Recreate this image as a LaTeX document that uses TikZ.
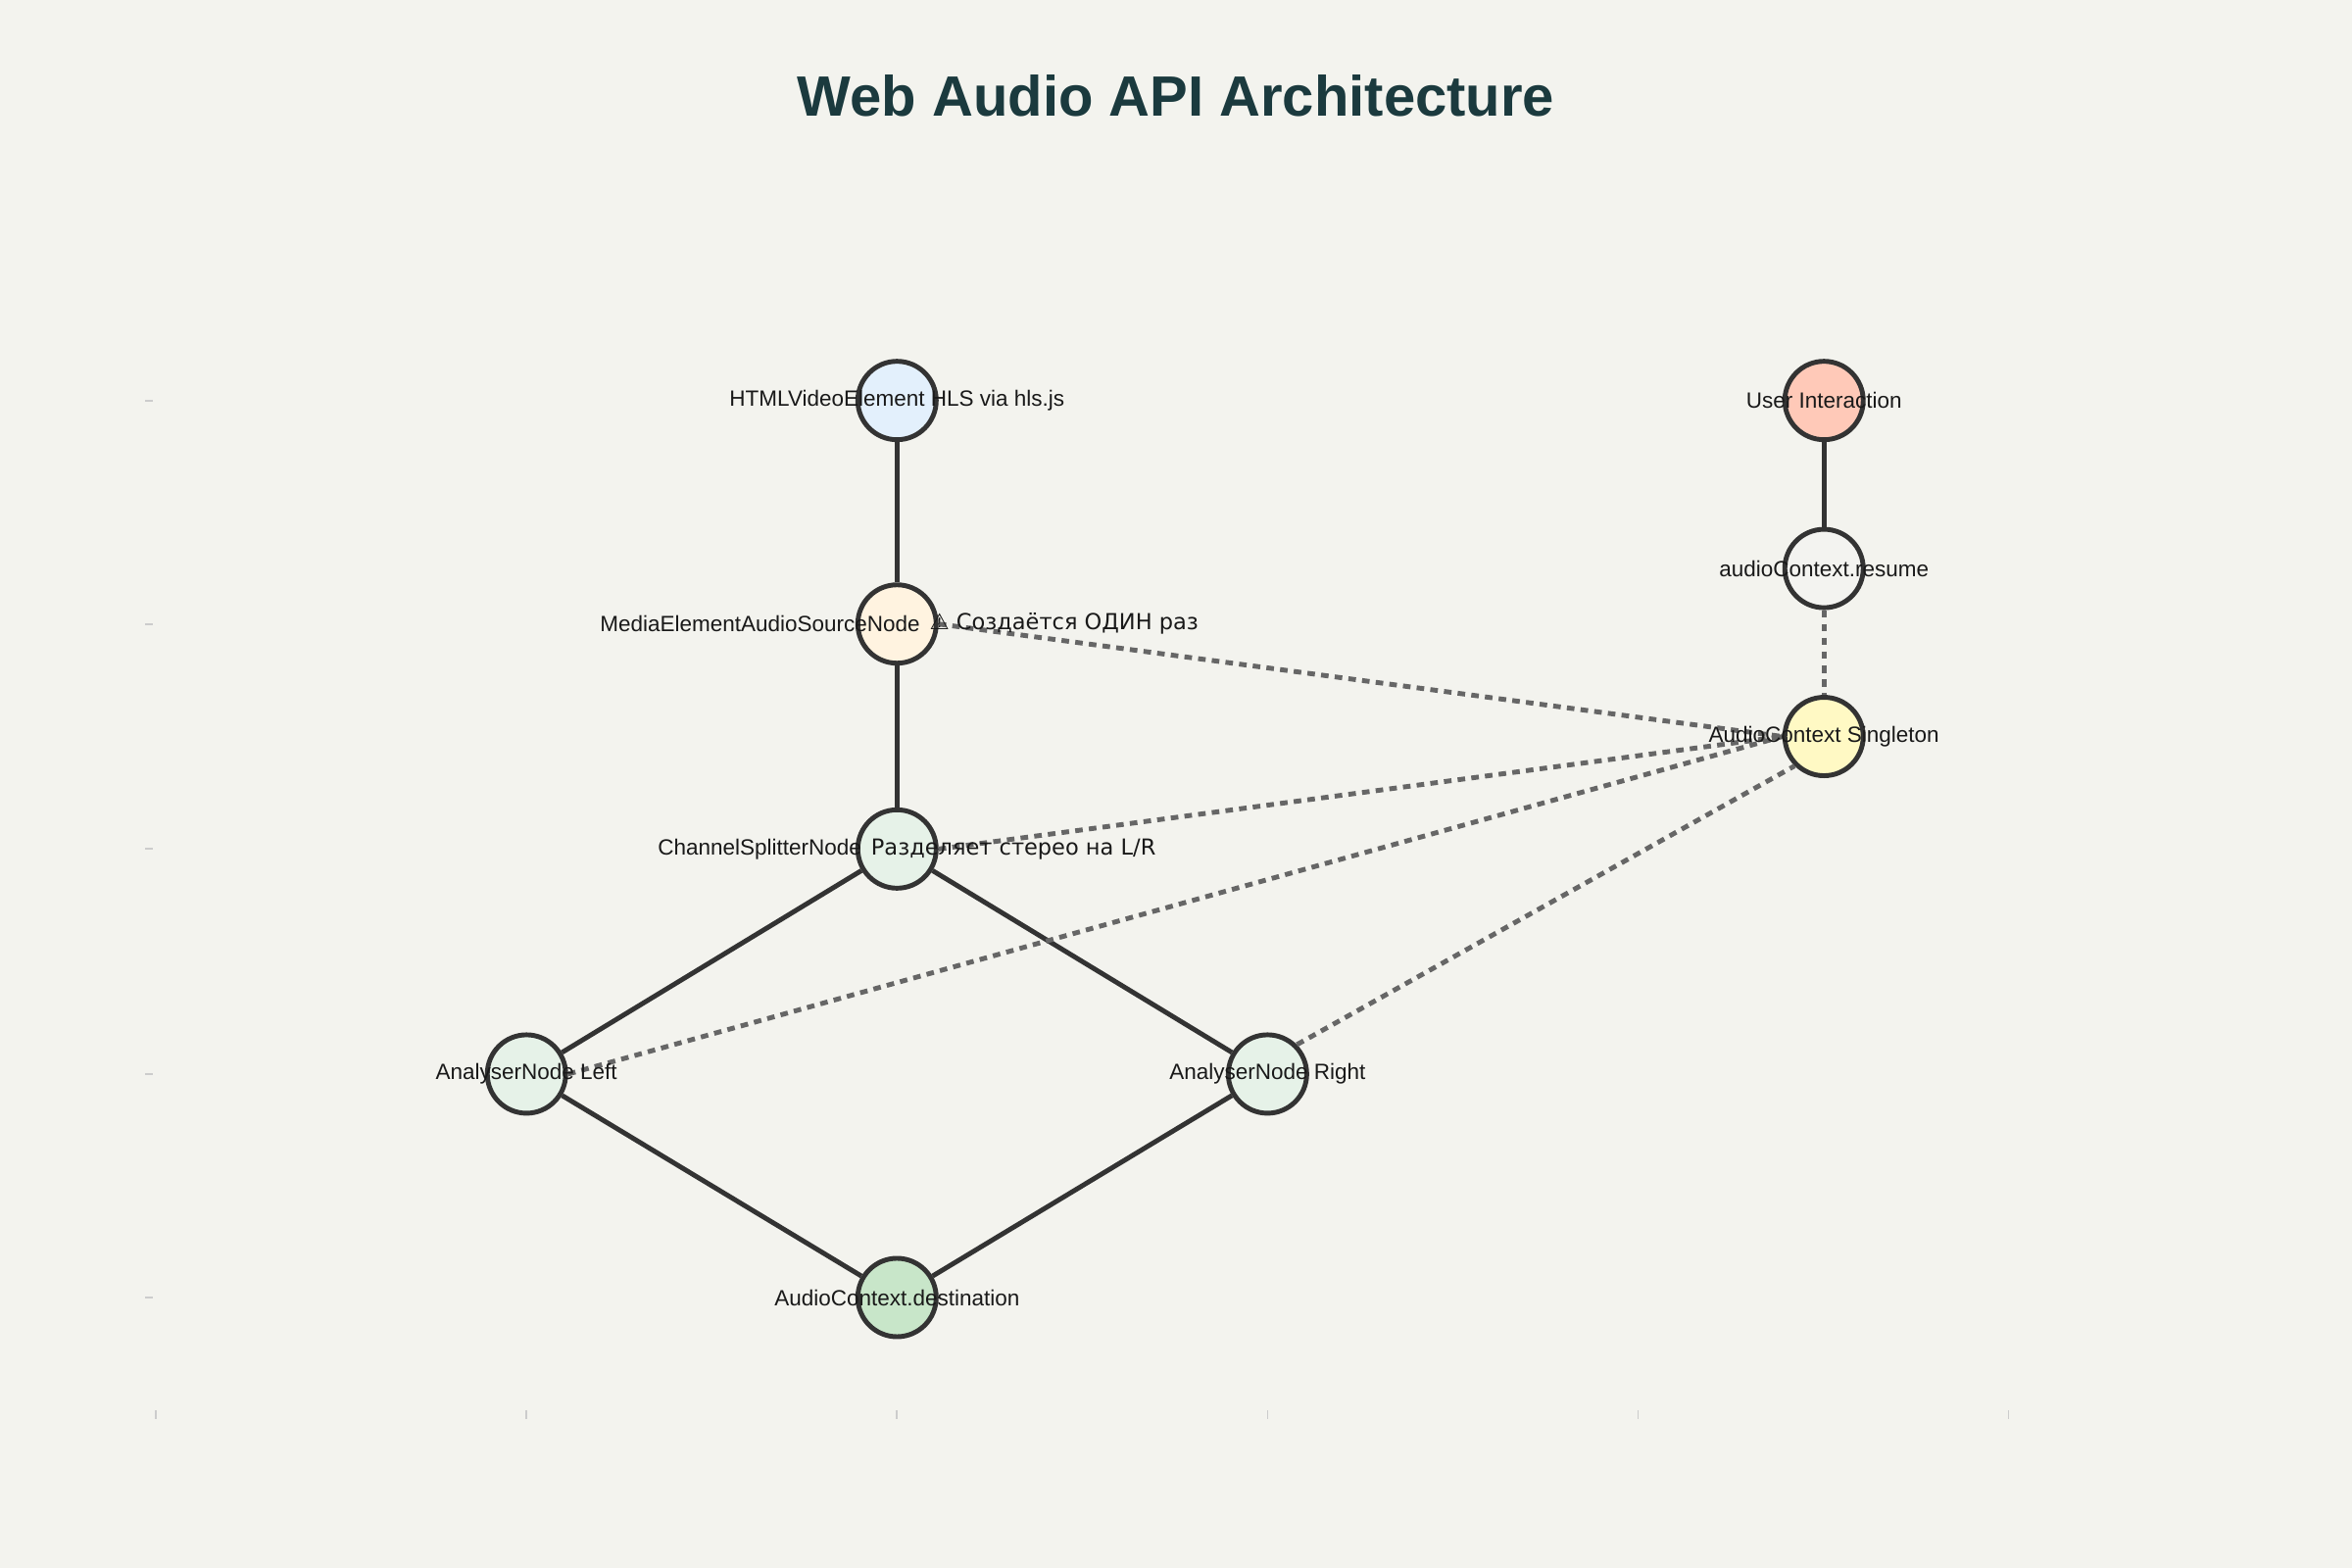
\documentclass[tikz,border=0pt]{standalone}
\usepackage{fontspec}
\setmainfont{Liberation Sans}
\newfontfamily\dejavu{DejaVu Sans}
\begin{document}
\begin{tikzpicture}[x=0.015306cm,y=-0.015306cm,
  lb/.style={font=\fontsize{6.4}{8}\selectfont,text=black!90,inner sep=1pt},
  sol/.style={draw=black!80,line width=1.4pt},
  dot/.style={draw=black!60,line width=1.4pt,dash pattern=on 2.2pt off 1.8pt},
  tk/.style={draw=black!20,line width=0.5pt}]
\definecolor{bg}{HTML}{F3F3EE}
\fill[bg] (0,0) rectangle (1568,1045);
\useasboundingbox (0,0) rectangle (1568,1045);
\node[font=\bfseries\fontsize{16.5}{20}\selectfont,text={rgb,255:red,27;green,58;blue,62}] (title) at (784,64) {Web Audio API Architecture};
\foreach \yy in {267,416,566,716,865}{\draw[tk] (97,\yy) -- (102,\yy);}
\foreach \xx in {104,351,598,845,1092,1339}{\draw[tk] (\xx,940) -- (\xx,946);}
\begin{scope}[every node/.style={circle,draw=black!80,line width=1.4pt,minimum size=0.8cm,inner sep=0pt}]
\node[fill={rgb,255:red,227;green,240;blue,252}] (html) at (598,267) {};
\node[fill={rgb,255:red,255;green,243;blue,224}] (media) at (598,416) {};
\node[fill={rgb,255:red,230;green,242;blue,232}] (split) at (598,566) {};
\node[fill={rgb,255:red,230;green,242;blue,232}] (left) at (351,716) {};
\node[fill={rgb,255:red,230;green,242;blue,232}] (right) at (845,716) {};
\node[fill={rgb,255:red,200;green,230;blue,201}] (dest) at (598,865) {};
\node[fill={rgb,255:red,255;green,201;blue,184}] (user) at (1216,267) {};
\node[fill={rgb,255:red,243;green,243;blue,240}] (resume) at (1216,379) {};
\node[fill={rgb,255:red,255;green,249;blue,196}] (single) at (1216,491) {};
\end{scope}
\draw[sol] (html) -- (media);
\draw[sol] (media) -- (split);
\draw[sol] (split) -- (left);
\draw[sol] (split) -- (right);
\draw[sol] (left) -- (dest);
\draw[sol] (right) -- (dest);
\draw[sol] (user) -- (resume);
\draw[dot] (resume) -- (single);
\draw[dot] (media.east) -- (single.west);
\draw[dot] (split.east) -- (single.west);
\draw[dot] (left.east) -- (single.west);
\draw[dot] (right.north east) -- (single.south west);
\node[lb] (lhtml) at (598,267) {HTMLVideoElement HLS via hls.js};
\node[lb,anchor=east] (lmedia) at (616,416) {MediaElementAudioSourceNode};
\node[lb,anchor=west] (amedia) at (617,416) {{\dejavu\char"26A0{} Создаётся ОДИН раз}};
\node[lb,anchor=east] (lsplit) at (577,566) {ChannelSplitterNode};
\node[lb,anchor=west] (asplit) at (578,566) {{\dejavu Разделяет стерео на L/R}};
\node[lb] (lleft) at (351,716) {AnalyserNode Left};
\node[lb] (lright) at (845,716) {AnalyserNode Right};
\node[lb] (ldest) at (598,865) {AudioContext.destination};
\node[lb] (luser) at (1216,267) {User Interaction};
\node[lb] (lres) at (1216,379) {audioContext.resume};
\node[lb] (lsing) at (1216,491) {AudioContext Singleton};
\end{tikzpicture}
\end{document}
